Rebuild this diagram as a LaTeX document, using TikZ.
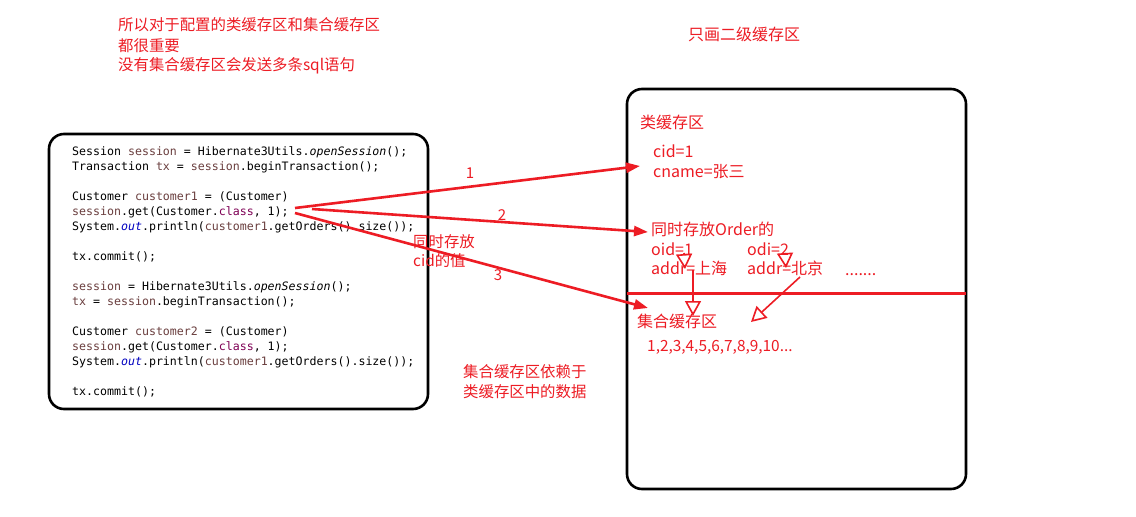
\documentclass[tikz,border=0pt]{standalone}
\usepackage{fontspec}
\newfontfamily\cjk{Noto Sans CJK SC}
\newfontfamily\code{DejaVu Sans Mono}
\usetikzlibrary{arrows.meta}
\definecolor{rd}{RGB}{237,28,36}
\definecolor{vg}{RGB}{106,62,62}
\definecolor{kw}{RGB}{127,0,85}
\definecolor{fb}{RGB}{0,0,192}
\newcommand{\vv}[1]{\textcolor{vg}{#1}}
\newcommand{\kk}[1]{\textcolor{kw}{#1}}
\newcommand{\ff}[1]{\textcolor{fb}{\itshape #1}}
\tikzset{
  box/.style={draw=black,line width=2.6pt,rounded corners=15pt},
  codeline/.style={anchor=base west,inner sep=0pt,font=\code\fontsize{11.6}{15}\selectfont},
  rtext/.style={anchor=base west,inner sep=0pt,text=rd,font=\cjk\fontsize{15.4}{20}\selectfont},
  rbig/.style={anchor=base west,inner sep=0pt,text=rd,font=\cjk\fontsize{16}{20}\selectfont},
  rlabel/.style={inner sep=0pt,text=rd,font=\cjk\fontsize{15}{20}\selectfont},
  redarrow/.style={draw=rd,line width=2.6pt,-{Triangle[length=14pt,width=10pt]}},
  openarrow/.style={draw=rd,line width=1.6pt,-{Triangle[open,length=15pt,width=16pt,line width=1.6pt]}}
}
\begin{document}
\begin{tikzpicture}[x=1pt,y=-1pt]
\useasboundingbox (0,0) rectangle (1136,517);
\fill[white] (0,0) rectangle (1136,517);

% boxes
\draw[box] (49,134) rectangle (428,409);
\draw[box] (627,89) rectangle (966,489);

% code
\node[codeline] (c1) at (72,155) {Session \vv{session} = Hibernate3Utils.\textit{openSession}();};
\node[codeline] (c2) at (72,170) {Transaction \vv{tx} = \vv{session}.beginTransaction();};
\node[codeline] (c3) at (72,200) {Customer \vv{customer1} = (Customer)};
\node[codeline] (c4) at (72,215) {\vv{session}.get(Customer.\kk{class}, 1);};
\node[codeline] (c5) at (72,230) {System.\ff{out}.println(\vv{customer1}.getOrders().size());};
\node[codeline] (c6) at (72,260) {tx.commit();};
\node[codeline] (c7) at (72,290) {\vv{session} = Hibernate3Utils.\textit{openSession}();};
\node[codeline] (c8) at (72,305) {\vv{tx} = \vv{session}.beginTransaction();};
\node[codeline] (c9) at (72,335) {Customer \vv{customer2} = (Customer)};
\node[codeline] (c10) at (72,350) {\vv{session}.get(Customer.\kk{class}, 1);};
\node[codeline] (c11) at (72,365) {System.\ff{out}.println(\vv{customer1}.getOrders().size());};
\node[codeline] (c12) at (72,395) {tx.commit();};

% top texts
\node[rtext] (t1) at (118,30) {所以对于配置的类缓存区和集合缓存区};
\node[rtext] (t2) at (118,51) {都很重要};
\node[rtext] (t3) at (118,70) {没有集合缓存区会发送多条sql语句};
\node[rbig] (t4) at (688,40) {只画二级缓存区};

% right box texts
\node[rbig] (r1) at (640,128) {类缓存区};
\node[rbig] (r2) at (653,157) {cid=1};
\node[rbig] (r3) at (653,177) {cname=张三};
\node[rbig] (r4) at (651,235) {同时存放Order的};
\node[rbig] (r5) at (651,255) {oid=1};
\node[rbig] (r6) at (747,255) {odi=2};
\node[rbig] (r7) at (651,274) {addr=上海};
\node[rbig] (r8) at (747,274) {addr=北京};
\node[rbig] (r9) at (845,275) {.......};
\node[rbig] (r10) at (637,327) {集合缓存区};
\node[rtext] (r11) at (647,351) {1,2,3,4,5,6,7,8,9,10...};

% middle texts
\node[rtext] (m1) at (413,247) {同时存放};
\node[rtext] (m2) at (413,266) {cid的值};
\node[rtext] (m3) at (463,377) {集合缓存区依赖于};
\node[rtext] (m4) at (463,397) {类缓存区中的数据};

% separator line
\coordinate (sepL) at (627,293);
\coordinate (sepR) at (966,293);
\draw[rd,line width=3pt] (sepL) -- (sepR);

% main arrows
\coordinate (s1) at (295,208);
\coordinate (s2) at (312,209);
\coordinate (s3) at (295,213);
\coordinate (e1) at (640,166);
\coordinate (e2) at (648,232);
\coordinate (e3) at (648,308);
\draw[redarrow] (s1) -- (e1);
\draw[redarrow] (s2) -- (e2);
\draw[redarrow] (s3) -- (e3);
\node[rlabel] (l1) at (470,173) {1};
\node[rlabel] (l2) at (502,215) {2};
\node[rlabel] (l3) at (498,275) {3};

% open arrows
\coordinate (o1s) at (684,253);
\coordinate (o1e) at (685,269);
\coordinate (o2s) at (785,253);
\coordinate (o2e) at (786,268);
\coordinate (o3s) at (693,270);
\coordinate (o3e) at (693,316);
\coordinate (o4s) at (800,277);
\coordinate (o4e) at (751,322);
\draw[openarrow] (o1s) -- (o1e);
\draw[openarrow] (o2s) -- (o2e);
\draw[openarrow] (o3s) -- (o3e);
\draw[openarrow] (o4s) -- (o4e);
\end{tikzpicture}
\end{document}
